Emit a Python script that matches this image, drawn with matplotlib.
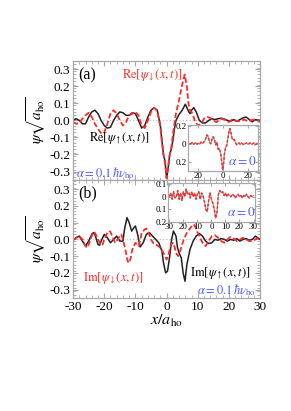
import matplotlib
matplotlib.use("Agg")
import matplotlib.pyplot as plt

plt.rcParams['font.family'] = ['Liberation Serif', 'DejaVu Serif']
plt.rcParams['mathtext.fontset'] = 'stix'
plt.rcParams['axes.unicode_minus'] = False

# (a) real parts, alpha = 0.1
reX = [-30, -29, -28, -27, -26, -25, -24, -23, -22, -21, -20, -19, -18, -17, -16, -15, -14, -13, -12, -11,
       -10, -9, -8, -7, -6, -5, -4, -3, -2, -1.5, -1, -0.5, 0, 0.5, 1, 1.5, 2, 2.5, 3, 4, 5, 6, 7, 7.5,
       8, 8.7, 9.5, 10.5, 11.5, 12.5, 13.5, 14.5, 15.5, 16.5, 17.5, 18.5, 19.5, 20.5, 21.5, 22.5, 23.5,
       24.5, 25.5, 26.5, 27.5, 28.5, 29.5, 30]
reUp = [0.0, 0.01, 0.0, -0.02, -0.02, 0.02, 0.05, 0.06, 0.04, 0.0, -0.03, -0.045, -0.04, 0.0, 0.03, 0.05,
        0.045, 0.03, 0.03, 0.045, 0.04, 0.0, -0.045, -0.03, 0.02, 0.06, 0.075, 0.06, -0.03, -0.12, -0.2,
        -0.24, -0.34, -0.28, -0.2, -0.17, -0.12, -0.05, 0.0, 0.035, 0.06, 0.095, 0.055, 0.04, 0.06, 0.075,
        0.05, 0.0, -0.015, -0.015, 0.0, 0.01, 0.005, 0.01, 0.013, 0.008, 0.0, -0.005, 0.005, -0.005, 0.005,
        0.015, 0.02, 0.005, -0.008, 0.005, 0.0, 0.0]

reDnX = [-30, -29, -28, -27, -26, -25, -24, -23, -22, -21, -20.5, -20, -19, -18, -17, -16, -15, -14, -13,
         -12, -11, -10, -9, -8, -7, -6, -5, -4, -3, -2, -1.5, -1, -0.5, 0, 0.5, 1, 1.5, 2, 2.5, 3, 4, 5,
         5.8, 6.5, 7, 7.5, 8, 8.5, 9, 10, 11, 12, 13, 14, 15, 16, 17, 18, 19, 20, 21, 22, 23, 24, 25, 26,
         27, 28, 29, 30]
reDn = [-0.01, -0.02, -0.015, 0.01, 0.03, 0.045, 0.02, -0.02, -0.05, -0.075, -0.08, -0.07, -0.02, 0.04,
        0.06, 0.04, 0.0, -0.03, -0.01, 0.03, 0.04, 0.05, 0.03, -0.03, -0.045, 0.0, 0.05, 0.075, 0.055,
        -0.04, -0.13, -0.2, -0.25, -0.34, -0.27, -0.2, -0.16, -0.09, -0.02, 0.04, 0.12, 0.21, 0.27, 0.2,
        0.1, 0.06, 0.05, 0.03, 0.0, -0.03, -0.02, 0.01, 0.02, 0.015, 0.0, -0.01, 0.005, 0.01, 0.0, -0.01,
        0.005, 0.0, -0.005, 0.0, 0.005, -0.005, 0.0, 0.005, 0.0, -0.005]

# (b) imaginary parts, alpha = 0.1
imUpX = [-30, -29, -28, -27, -26, -25, -24, -23.5, -23, -22, -21.5, -21, -20, -19, -18, -17, -16, -15,
         -14, -13.5, -12.7, -12, -11.2, -10.5, -10, -9.3, -8.5, -7.5, -6.5, -5.5, -4.5, -3.5, -2.5, -1.5,
         -1, -0.3, 0.3, 1, 1.6, 2.2, 3, 3.5, 4, 4.7, 5.3, 5.9, 6.5, 7.5, 8.5, 9.5, 10.5, 11.5, 12.5, 13.5,
         14.5, 15.5, 16.5, 17.5, 18.5, 19.5, 20.5, 21.5, 22.5, 23.5, 24.5, 25.5, 26.5, 27.5, 28.5, 29.5, 30]
imUp = [-0.005, 0.01, 0.02, -0.01, -0.04, -0.01, 0.03, 0.04, 0.03, -0.03, -0.035, -0.01, 0.03, 0.01,
        -0.02, 0.0, 0.02, -0.01, -0.01, 0.06, 0.13, 0.1, 0.05, 0.07, 0.08, 0.03, -0.045, -0.02, 0.03, 0.04,
        0.02, 0.0, -0.02, -0.07, -0.14, -0.2, -0.19, -0.1, 0.0, 0.05, 0.02, -0.05, -0.08, -0.11, -0.2,
        -0.25, -0.15, -0.06, -0.01, 0.02, 0.035, 0.02, -0.01, -0.025, -0.02, 0.0, -0.005, 0.005, 0.0,
        -0.01, 0.0, -0.005, 0.005, -0.01, 0.0, 0.005, -0.005, 0.0, 0.02, 0.005, 0.0]

imDnX = [-30, -29, -28, -27, -26, -25.5, -25, -24, -23.5, -23, -22, -21, -20.5, -20, -19, -18.5, -18, -17,
         -16.5, -16, -15, -14.5, -14, -13, -12.5, -12, -11.5, -11, -10, -9, -8.5, -8, -7, -6.5, -6, -5, -4,
         -3, -2, -1, 0, 0.5, 1, 1.5, 2, 2.5, 3, 3.7, 4.5, 5.5, 6.5, 7.5, 8.5, 9, 9.5, 10.5, 11.5, 12.5,
         13.5, 14.5, 15.5, 16.5, 17.5, 18.5, 19.5, 20.5, 21.5, 22.5, 23.5, 24.5, 25.5, 26.5, 27.5, 28.5,
         29.5, 30]
imDn = [-0.005, 0.01, 0.02, 0.0, -0.04, -0.05, -0.03, 0.02, 0.045, 0.04, 0.0, -0.035, -0.03, 0.0, 0.04,
        0.05, 0.045, 0.0, -0.02, -0.01, 0.02, 0.03, 0.0, -0.08, -0.13, -0.14, -0.11, -0.06, -0.02, -0.04,
        -0.01, 0.04, 0.06, 0.065, 0.05, 0.0, -0.03, -0.035, -0.05, -0.08, -0.12, -0.1, -0.06, -0.03, -0.02,
        -0.04, -0.08, -0.1, -0.06, 0.0, 0.04, 0.065, 0.09, 0.085, 0.06, 0.02, -0.02, -0.04, -0.01, 0.02,
        0.025, 0.01, -0.01, -0.02, 0.0, 0.015, 0.005, -0.01, 0.0, 0.01, 0.0, -0.01, -0.01, 0.0, 0.01, 0.005]

# insets, alpha = 0
insReX = [-29, -28, -27, -26, -25, -24, -23, -22, -21, -20, -19, -18, -17, -16, -15, -14, -13, -12, -11,
          -10, -9, -8, -7, -6, -5, -4, -3, -2, -1, -0.3, 0.5, 1, 2, 3, 4, 5, 5.6, 6.5, 7.5, 8.3, 9, 10, 11,
          12, 13, 14, 15, 16, 17, 18, 19, 20, 21, 22, 23, 24, 25, 26, 27, 28, 29]
insRe = [0.0, 0.01, -0.01, 0.005, 0.015, -0.005, 0.005, 0.015, -0.005, 0.01, 0.0, 0.02, 0.005, 0.015, 0.03,
         0.06, 0.1, 0.08, 0.02, 0.0, 0.05, 0.08, 0.05, -0.01, 0.02, -0.06, -0.05, -0.1, -0.2, -0.29, -0.22,
         -0.12, -0.04, -0.02, 0.07, 0.15, 0.17, 0.12, 0.05, 0.045, 0.05, 0.02, -0.01, 0.0, 0.01, -0.005,
         0.01, 0.0, -0.01, 0.005, 0.01, -0.005, 0.0, 0.01, -0.005, 0.0, 0.01, -0.01, 0.0, 0.01, 0.0]

insImX = [-30, -29, -28, -27, -26, -25, -24, -23, -22, -21, -20, -19, -18, -17, -16, -15, -14, -13, -12,
          -11, -10, -9, -8, -7, -6, -5, -4, -3, -2, -1, 0, 1, 2, 3, 4, 5, 6, 7, 8, 9, 10, 11, 12, 13, 14,
          15, 16, 17, 18, 19, 20, 21, 22, 23, 24, 25, 26, 27, 28, 29, 30]
insIm = [0.0, 0.03, -0.02, 0.04, -0.01, 0.0, 0.05, -0.02, 0.03, -0.03, 0.04, 0.0, 0.06, 0.02, 0.03, -0.01,
         0.04, 0.0, 0.03, -0.02, 0.02, 0.04, -0.02, 0.03, 0.01, -0.04, -0.1, -0.12, -0.03, 0.03, -0.02,
         -0.05, -0.1, -0.17, -0.12, 0.02, 0.05, 0.03, 0.04, 0.01, 0.03, 0.0, 0.02, 0.01, 0.0, 0.02, 0.01,
         -0.01, 0.01, 0.02, 0.0, 0.01, -0.01, 0.01, 0.0, 0.02, 0.0, -0.01, 0.01, 0.0, 0.01]

yTicks = [-0.3, -0.2, -0.1, 0.0, 0.1, 0.2, 0.3]
xTicks = [-30, -20, -10, 0, 10, 20, 30]

red = '#ff2a2a'
blue = '#4d5cff'
frame = '#a8a8a8'
dash = (3.0, 1.4)


def styleAxes(ax, minorX, minorY, size=9):
    for s in ax.spines.values():
        s.set_color(frame)
        s.set_linewidth(0.9)
    ax.tick_params(which='both', direction='in', top=True, right=True, color=frame, labelsize=size, pad=2)
    ax.tick_params(which='major', length=3.5)
    ax.tick_params(which='minor', length=2)
    ax.set_xticks(minorX, minor=True)
    ax.set_yticks(minorY, minor=True)


fig = plt.figure(figsize=(2.91, 4.11), dpi=100)
axA = fig.add_axes([0.251, 0.562, 0.643, 0.29])
axB = fig.add_axes([0.251, 0.275, 0.643, 0.287])

minorX = [v / 2 for v in range(-60, 61, 4)]
minorY = [v / 100 for v in range(-35, 36, 2)]

# panel (a)
axA.axhline(0, color='#c0c0c0', ls=':', lw=0.9)
axA.plot(reX, reUp, color='#222222', lw=1.1)
axA.plot(reDnX, reDn, color=red, lw=1.3, dashes=dash)
axA.set_xlim(-30, 30)
axA.set_ylim(-0.345, 0.3)
axA.set_yticks(yTicks)
axA.set_yticklabels([f"{v:.1f}" for v in yTicks])
axA.set_xticks(xTicks)
axA.set_xticklabels([])
styleAxes(axA, minorX, minorY, size=9.5)
axA.text(0.027, 0.874, '(a)', transform=axA.transAxes, fontsize=11.5, va='center')
axA.text(0.262, 0.874, r'$\mathrm{Re}[\psi_\downarrow(x,t)]$', transform=axA.transAxes,
         color=red, fontsize=9, va='center')
axA.text(0.086, 0.345, r'$\mathrm{Re}[\psi_\uparrow(x,t)]$', transform=axA.transAxes,
         color='black', fontsize=9, va='center')
axA.text(0.016, 0.06, r'$\alpha = 0.1\,\hbar\nu_\mathrm{ho}$', transform=axA.transAxes,
         color=blue, fontsize=9, va='center')
axA.set_ylabel(r'$\psi\sqrt{a_\mathrm{ho}}$', fontsize=11)
axA.yaxis.set_label_coords(-0.135, 0.5)

# panel (b)
axB.axhline(0, color='#c0c0c0', ls=':', lw=0.9)
axB.plot(imUpX, imUp, color='#222222', lw=1.1)
axB.plot(imDnX, imDn, color=red, lw=1.3, dashes=dash)
axB.set_xlim(-30, 30)
axB.set_ylim(-0.3, 0.355)
axB.set_yticks(yTicks)
axB.set_yticklabels([f"{v:.1f}" for v in yTicks])
axB.set_xticks(xTicks)
axB.set_xticklabels([str(v) for v in xTicks])
styleAxes(axB, minorX, minorY, size=9.5)
axB.text(0.03, 0.89, '(b)', transform=axB.transAxes, fontsize=11.5, va='center')
axB.text(0.053, 0.16, r'$\mathrm{Im}[\psi_\downarrow(x,t)]$', transform=axB.transAxes,
         color=red, fontsize=9, va='center')
axB.text(0.626, 0.2, r'$\mathrm{Im}[\psi_\uparrow(x,t)]$', transform=axB.transAxes,
         color='black', fontsize=9, va='center')
axB.text(0.975, 0.07, r'$\alpha = 0.1\,\hbar\nu_\mathrm{ho}$', transform=axB.transAxes,
         color=blue, fontsize=9, va='center', ha='right')
axB.set_ylabel(r'$\psi\sqrt{a_\mathrm{ho}}$', fontsize=11)
axB.yaxis.set_label_coords(-0.135, 0.5)
axB.set_xlabel(r'$x/a_\mathrm{ho}$', fontsize=11.5, labelpad=0)

# inset (a)
insA = fig.add_axes([0.646, 0.584, 0.241, 0.112])
insA.plot(insReX, insRe, color='#999999', lw=0.8)
insA.plot(insReX, insRe, color=red, lw=1.0, dashes=(2.0, 1.2))
insA.set_xlim(-28.5, 28.5)
insA.set_ylim(-0.3, 0.21)
insA.set_xticks([-20, 0, 20])
insA.set_xticklabels(['20', '0', '20'])
insA.set_yticks([-0.2, 0, 0.2])
insA.set_yticklabels(['0.2', '0', '0.2'])
styleAxes(insA, [], [], size=6.5)
insA.tick_params(which='major', length=2, pad=1)
insA.text(0.57, 0.2, r'$\alpha = 0$', transform=insA.transAxes, color=blue, fontsize=9.5, va='center')

# inset (b)
insB = fig.add_axes([0.577, 0.46, 0.299, 0.095])
insB.plot(insImX, insIm, color='#999999', lw=0.8)
insB.plot(insImX, insIm, color=red, lw=1.0, dashes=(2.0, 1.2))
insB.set_xlim(-31, 31)
insB.set_ylim(-0.2, 0.11)
insB.set_xticks([-30, -20, -10, 0, 10, 20, 30])
insB.set_xticklabels(['30', '20', '10', '0', '10', '20', '30'])
insB.set_yticks([-0.2, -0.1, 0, 0.1])
insB.set_yticklabels(['0.2', '0.1', '0', '0.1'])
styleAxes(insB, [], [], size=6.5)
insB.tick_params(which='major', length=2, pad=1)
insB.text(0.68, 0.23, r'$\alpha = 0$', transform=insB.transAxes, color=blue, fontsize=9.5, va='center')

fig.savefig('out.png', dpi=100)
